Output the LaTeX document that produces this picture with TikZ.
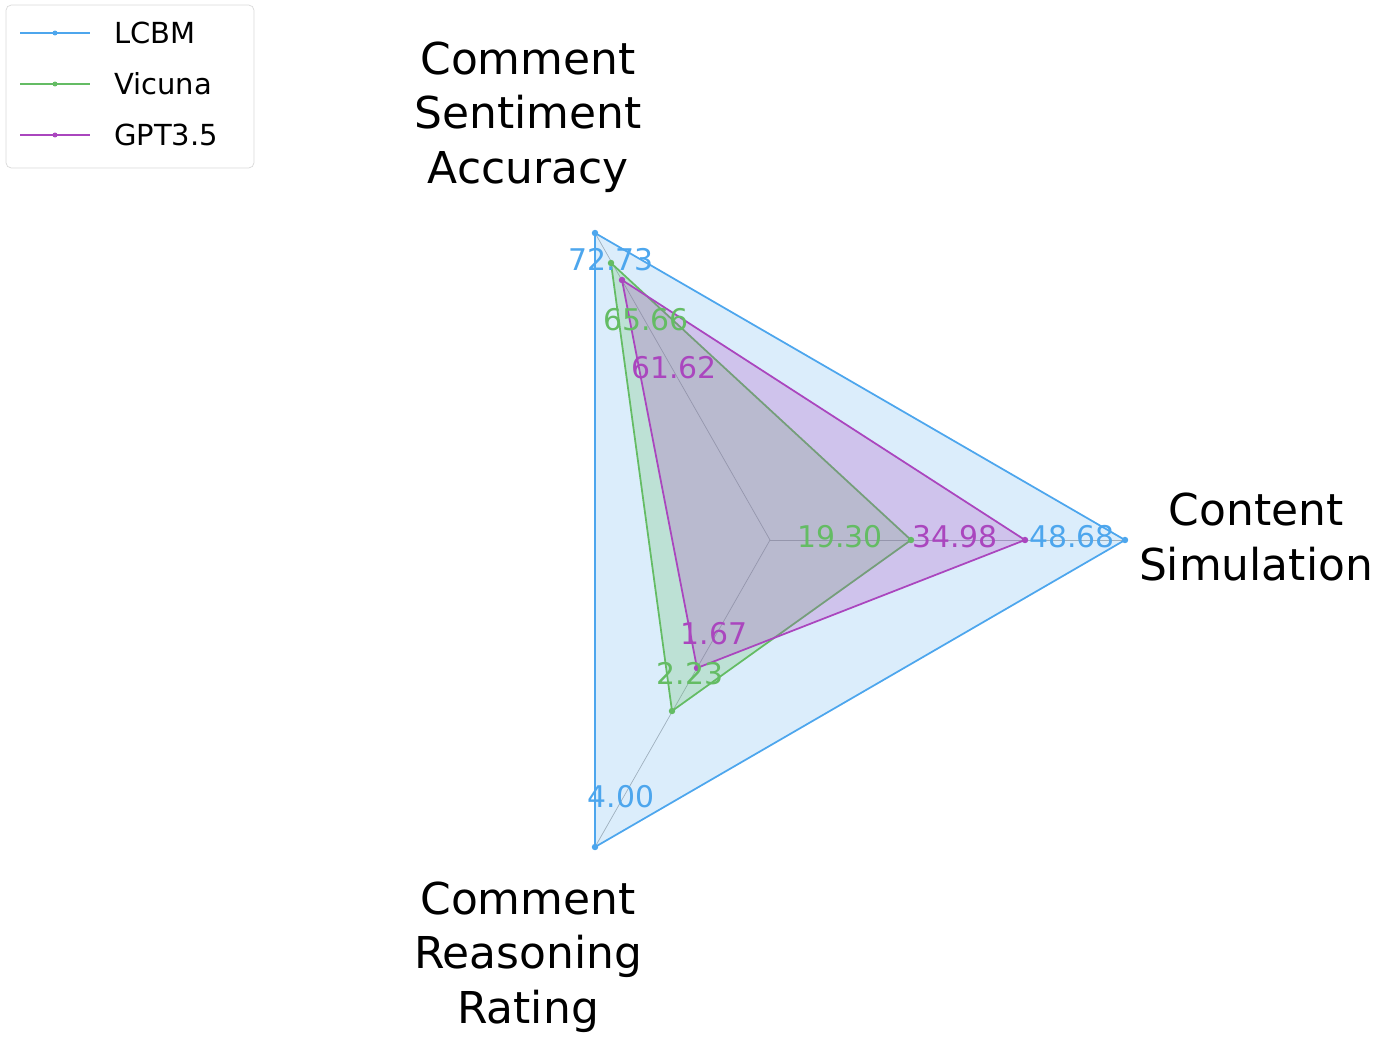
\documentclass[tikz,border=0pt]{standalone}
\usepackage{fontspec}
\setmainfont{DejaVu Sans}
\definecolor{lcbm}{RGB}{77,166,237}
\definecolor{vic}{RGB}{100,188,100}
\definecolor{gpt}{RGB}{170,70,190}
\tikzset{
  axislab/.style={align=center, font=\fontsize{25}{31}\selectfont},
  vallab/.style={font=\fontsize{17}{20}\selectfont},
  dot/.style={circle, fill, inner sep=1.3pt},
}
\begin{document}
\begin{tikzpicture}[x=0.02cm, y=-0.02cm]
\useasboundingbox (0,0) rectangle (1389,1049);
% axes
\coordinate (o) at (770,540);
\coordinate (a) at (595,233);
\coordinate (b) at (1125,540);
\coordinate (c) at (595,847);
\foreach \p in {a,b,c}
{
    \draw[gray!60, line width=0.4pt] (o)--(\p);
}
% LCBM
\fill[lcbm, opacity=.2] (a)--(b)--(c)--cycle;
\draw[lcbm, line width=1pt] (a)--(b)--(c)--cycle;
% Vicuna
\coordinate (va) at (611,263);
\coordinate (vb) at (911,540);
\coordinate (vc) at (672,711);
\fill[vic, opacity=.25] (va)--(vb)--(vc)--cycle;
\draw[vic, line width=1pt] (va)--(vb)--(vc)--cycle;
% GPT3.5
\coordinate (ga) at (622,280);
\coordinate (gb) at (1025,540);
\coordinate (gc) at (697,668);
\fill[gpt, opacity=.25] (ga)--(gb)--(gc)--cycle;
\draw[gpt, line width=1pt] (ga)--(gb)--(gc)--cycle;
\foreach \p in {a,b,c}
{
    \node[dot, lcbm] at (\p) {};
}
\foreach \p in {va,vb,vc}
{
    \node[dot, vic] at (\p) {};
}
\foreach \p in {ga,gb,gc}
{
    \node[dot, gpt] at (\p) {};
}
% values
\node[vallab, lcbm] (la) at (611,260) {72.73};
\node[vallab, vic] (lva) at (646,320) {65.66};
\node[vallab, gpt] (lga) at (674,368) {61.62};
\node[vallab, vic] (lvb) at (840,537) {19.30};
\node[vallab, gpt] (lgb) at (955,537) {34.98};
\node[vallab, lcbm] (lb) at (1072,537) {48.68};
\node[vallab, gpt] (lgc) at (714,634) {1.67};
\node[vallab, vic] (lvc) at (690,674) {2.23};
\node[vallab, lcbm] (lc) at (621,797) {4.00};
% axis labels
\node[axislab] (ta) at (528,117) {Comment\\Sentiment\\Accuracy};
\node[axislab] (tb) at (1256,537) {Content\\Simulation};
\node[axislab] (tc) at (528,957) {Comment\\Reasoning\\Rating};
% legend
\draw[gray!30, rounded corners=3pt, fill=white] (6,5) rectangle (254,168);
\foreach \y/\c/\t in {33/lcbm/LCBM, 84/vic/Vicuna, 135/gpt/GPT3.5}
{
    \draw[\c, line width=0.8pt] (20,\y)--(90,\y);
    \node[dot, \c, inner sep=1pt] at (55,\y) {};
    \node[anchor=west, font=\fontsize{16.5}{20}\selectfont] at (108,\y) {\t};
}
\end{tikzpicture}
\end{document}
